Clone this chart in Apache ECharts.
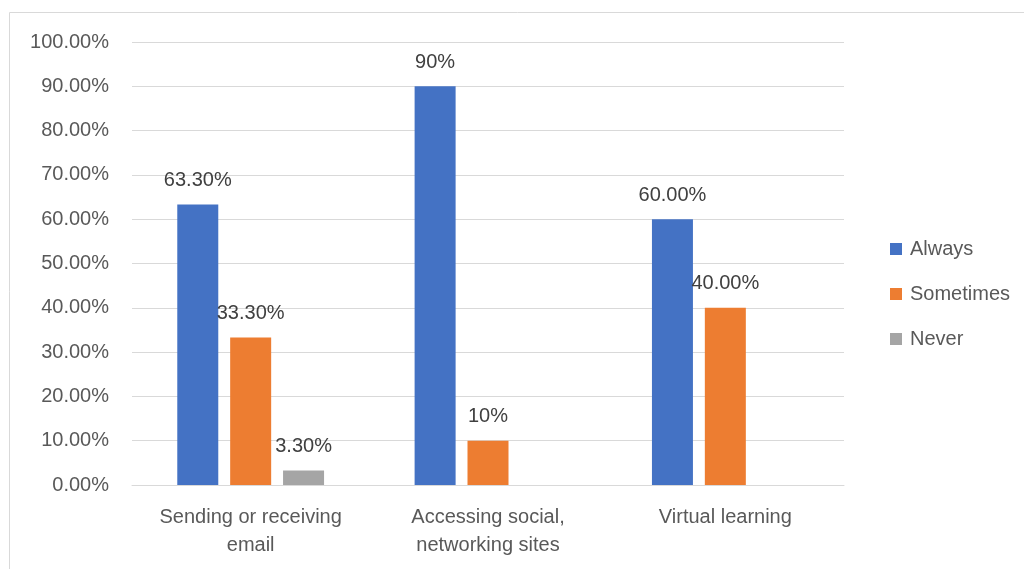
<!DOCTYPE html>
<html>
<head>
<meta charset="utf-8">
<script src="https://cdn.jsdelivr.net/npm/echarts@6/dist/echarts.min.js"></script>
<style>
  html, body { margin: 0; padding: 0; background: #fff; }
  #chart { width: 1024px; height: 569px; }
</style>
</head>
<body>
<div id="chart"></div>
<script>
var categories = ['Sending or receiving\nemail', 'Accessing social,\nnetworking sites', 'Virtual learning'];
var seriesNames = ['Always', 'Sometimes', 'Never'];
var always = [63.3, 90, 60];
var sometimes = [33.3, 10, 40];
var never = [3.3, 0, 0];
// labels as shown on the chart (some without decimals)
var alwaysLabels = ['63.30%', '90%', '60.00%'];
var sometimesLabels = ['33.30%', '10%', '40.00%'];
var neverLabels = ['3.30%', '', ''];
var colors = ['#4472C4', '#ED7D31', '#A5A5A5'];

var values = [always, sometimes, never];
var labels = [alwaysLabels, sometimesLabels, neverLabels];

var myChart = echarts.init(document.getElementById('chart'));
var option = {
    animation: false,
    color: colors,
    textStyle: {fontFamily: 'Liberation Sans, Arial, sans-serif'},
    graphic: [{
        type: 'rect',
        shape: {x: 9.5, y: 12.5, width: 1100, height: 600},
        style: {fill: 'none', stroke: '#d9d9d9', lineWidth: 1},
        silent: true
    }],
    legend: {
        orient: 'vertical',
        left: 885,
        top: 234,
        itemWidth: 12,
        itemHeight: 12,
        itemGap: 25,
        icon: 'rect',
        data: seriesNames,
        textStyle: {color: '#595959', fontSize: 20, padding: [0, 0, 0, 3]}
    },
    grid: {
        left: 132,
        right: 180,
        top: 42,
        bottom: 84,
        containLabel: false
    },
    xAxis: {
        type: 'category',
        data: categories,
        axisTick: {show: false},
        axisLine: {show: true, lineStyle: {color: '#d9d9d9', width: 1}},
        axisLabel: {color: '#595959', fontSize: 20, lineHeight: 28, margin: 18, interval: 0}
    },
    yAxis: {
        type: 'value',
        min: 0,
        max: 100,
        interval: 10,
        axisLine: {show: false},
        axisTick: {show: false},
        splitLine: {show: true, lineStyle: {color: '#d9d9d9', width: 1}},
        axisLabel: {
            color: '#595959',
            fontSize: 20,
            margin: 23,
            formatter: function (v) { return v.toFixed(2) + '%'; }
        }
    },
    series: function () {
        var serie = [];
        for (var i = 0; i < seriesNames.length; i++) {
            serie.push({
                name: seriesNames[i],
                type: 'bar',
                data: values[i],
                barWidth: 41,
                barGap: '29%',
                label: {
                    show: true,
                    position: 'top',
                    distance: 14,
                    color: '#404040',
                    fontSize: 20,
                    formatter: (function (lab) {
                        return function (p) { return lab[p.dataIndex]; };
                    })(labels[i])
                }
            });
        }
        return serie;
    }()
};
myChart.setOption(option);
</script>
</body>
</html>
